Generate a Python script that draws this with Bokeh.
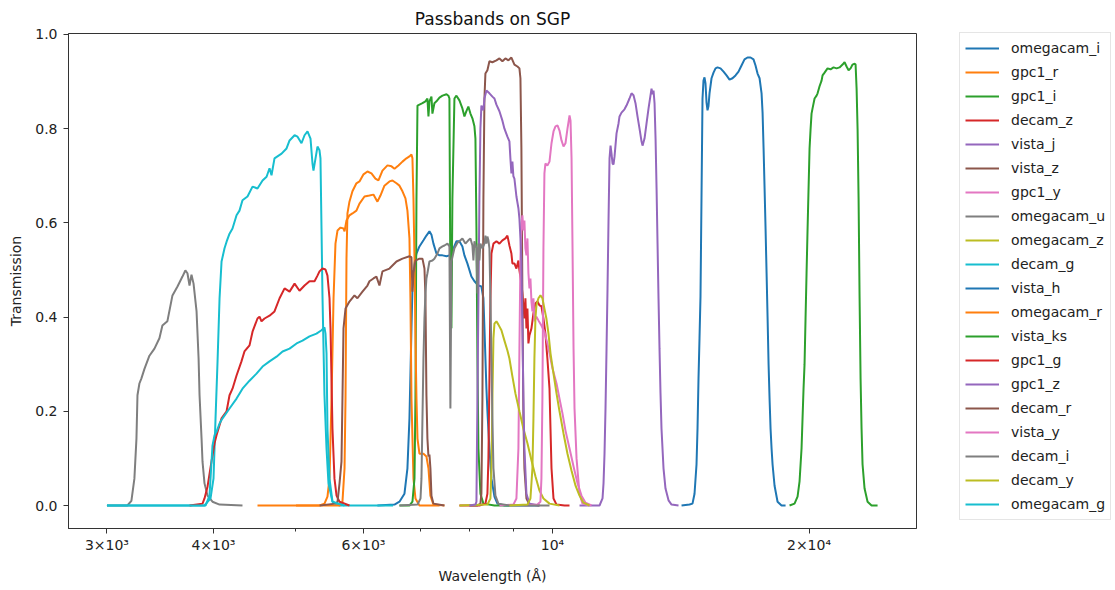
from bokeh.plotting import figure
from bokeh.models import Legend, LegendItem, FixedTicker, PrintfTickFormatter
from bokeh.embed import file_html
from bokeh.resources import INLINE

# ---- data: (wavelength [Angstrom], transmission) pairs ----
omegacam_i = [(6230, 0), (6525, 0.002), (6613, 0.008), (6703, 0.025), (6757, 0.079), (6794, 0.185),
              (6831, 0.376), (6849, 0.461), (6887, 0.514), (6924, 0.535), (6980, 0.55), (7056, 0.563),
              (7113, 0.573), (7171, 0.582), (7210, 0.575), (7249, 0.556), (7308, 0.535), (7368, 0.531),
              (7428, 0.531), (7509, 0.529), (7569, 0.531), (7652, 0.546), (7714, 0.561), (7776, 0.561),
              (7839, 0.55), (7882, 0.531), (7945, 0.514), (8032, 0.486), (8098, 0.476), (8186, 0.467),
              (8252, 0.465), (8297, 0.44), (8320, 0.376), (8365, 0.248), (8387, 0.2), (8433, 0.121),
              (8479, 0.057), (8548, 0.019), (8617, 0.004), (8782, 0), (9650, 0)]
gpc1_r = [(4506, 0), (5328, 0), (5400, 0.004), (5444, 0.019), (5474, 0.057), (5504, 0.227), (5534, 0.44),
          (5563, 0.556), (5594, 0.584), (5639, 0.59), (5685, 0.588), (5701, 0.582), (5731, 0.605),
          (5777, 0.616), (5824, 0.62), (5887, 0.626), (5936, 0.641), (6017, 0.656), (6098, 0.658),
          (6164, 0.66), (6231, 0.645), (6282, 0.658), (6350, 0.679), (6437, 0.688), (6489, 0.69),
          (6560, 0.684), (6613, 0.679), (6667, 0.667), (6721, 0.652), (6757, 0.626), (6794, 0.567),
          (6812, 0.44), (6831, 0.227), (6868, 0.057), (6905, 0.015), (6980, 0), (7370, 0)]
gpc1_i = [(6613, 0), (6794, 0), (6849, 0.008), (6887, 0.057), (6905, 0.227), (6924, 0.652), (6943, 0.849),
          (6980, 0.851), (7037, 0.854), (7094, 0.858), (7132, 0.864), (7152, 0.826), (7171, 0.858),
          (7210, 0.868), (7229, 0.832), (7268, 0.854), (7308, 0.858), (7368, 0.866), (7428, 0.87),
          (7509, 0.873), (7548, 0.87), (7569, 0.864), (7590, 0.44), (7610, 0.376), (7630, 0.652),
          (7672, 0.864), (7714, 0.87), (7776, 0.86), (7839, 0.843), (7882, 0.826), (7924, 0.837),
          (7966, 0.847), (8011, 0.832), (8054, 0.822), (8098, 0.805), (8120, 0.779), (8142, 0.588),
          (8164, 0.312), (8186, 0.121), (8230, 0.025), (8297, 0.004), (8548, 0), (8900, 0)]
decam_z = [(7776, 0), (8208, 0), (8342, 0.004), (8387, 0.025), (8410, 0.1), (8433, 0.27), (8456, 0.44),
           (8479, 0.535), (8525, 0.556), (8594, 0.561), (8664, 0.556), (8734, 0.563), (8805, 0.567),
           (8853, 0.573), (8901, 0.552), (8949, 0.535), (8973, 0.514), (9022, 0.514), (9071, 0.503),
           (9120, 0.52), (9145, 0.499), (9194, 0.471), (9219, 0.45), (9269, 0.397), (9294, 0.44),
           (9320, 0.376), (9345, 0.418), (9370, 0.344), (9396, 0.361), (9447, 0.376), (9498, 0.408),
           (9549, 0.429), (9601, 0.433), (9653, 0.425), (9705, 0.423), (9758, 0.397), (9810, 0.365),
           (9863, 0.312), (9919, 0.248), (9946, 0.163), (9973, 0.079), (10027, 0.015), (10109, 0.002),
           (10330, 0), (10470, 0)]
vista_j = [(10757, 0), (11355, 0), (11447, 0.015), (11478, 0.047), (11509, 0.11), (11540, 0.206),
           (11572, 0.333), (11603, 0.461), (11635, 0.609), (11666, 0.737), (11698, 0.764), (11729, 0.747),
           (11761, 0.726), (11793, 0.724), (11825, 0.741), (11889, 0.79), (11953, 0.811), (11985, 0.826),
           (12050, 0.834), (12147, 0.841), (12213, 0.849), (12313, 0.864), (12380, 0.875), (12447, 0.871),
           (12514, 0.854), (12582, 0.826), (12651, 0.8), (12719, 0.773), (12754, 0.764), (12823, 0.779),
           (12893, 0.811), (12963, 0.843), (13033, 0.871), (13068, 0.885), (13104, 0.873), (13139, 0.881),
           (13175, 0.854), (13211, 0.779), (13247, 0.673), (13282, 0.556), (13317, 0.44), (13353, 0.333),
           (13389, 0.238), (13425, 0.163), (13498, 0.079), (13571, 0.036), (13682, 0.011), (13794, 0.002),
           (14057, 0)]
vista_z = [(7989, 0), (8164, 0), (8230, 0.004), (8252, 0.025), (8275, 0.227), (8297, 0.652), (8320, 0.864),
           (8342, 0.917), (8387, 0.924), (8433, 0.943), (8501, 0.941), (8594, 0.945), (8664, 0.949),
           (8734, 0.943), (8805, 0.949), (8877, 0.945), (8949, 0.951), (9022, 0.936), (9096, 0.932),
           (9145, 0.928), (9170, 0.907), (9194, 0.758), (9219, 0.44), (9244, 0.185), (9269, 0.079),
           (9320, 0.015), (9396, 0.002), (9653, 0)]
gpc1_y = [(8664, 0), (8997, 0.002), (9071, 0.015), (9120, 0.121), (9145, 0.333), (9170, 0.524), (9194, 0.599),
          (9219, 0.616), (9244, 0.584), (9269, 0.605), (9294, 0.546), (9320, 0.531), (9345, 0.567),
          (9370, 0.493), (9396, 0.461), (9421, 0.482), (9447, 0.433), (9472, 0.412), (9498, 0.44),
          (9523, 0.391), (9575, 0.401), (9627, 0.393), (9705, 0.382), (9784, 0.369), (9863, 0.344),
          (9919, 0.323), (10000, 0.291), (10109, 0.259), (10191, 0.227), (10274, 0.195), (10357, 0.159),
          (10471, 0.121), (10585, 0.083), (10700, 0.047), (10815, 0.021), (10932, 0.006), (11112, 0)]
omegacam_u = [(3000, 0), (3170, 0), (3205, 0.01), (3231, 0.057), (3249, 0.142), (3258, 0.234), (3275, 0.259),
              (3293, 0.27), (3320, 0.29), (3365, 0.318), (3411, 0.333), (3457, 0.355), (3485, 0.382),
              (3532, 0.391), (3581, 0.446), (3630, 0.465), (3679, 0.486), (3708, 0.499), (3729, 0.493),
              (3750, 0.467), (3770, 0.49), (3791, 0.471), (3822, 0.412), (3843, 0.312), (3853, 0.234),
              (3874, 0.142), (3884, 0.093), (3905, 0.047), (3937, 0.021), (3990, 0.008), (4067, 0.002),
              (4327, 0)]
omegacam_z = [(7776, 0), (8387, 0.002), (8456, 0.015), (8479, 0.079), (8501, 0.227), (8525, 0.355),
              (8548, 0.386), (8594, 0.391), (8640, 0.384), (8711, 0.372), (8782, 0.35), (8853, 0.329),
              (8901, 0.312), (8973, 0.274), (9046, 0.238), (9145, 0.2), (9244, 0.163), (9345, 0.132),
              (9447, 0.096), (9549, 0.062), (9653, 0.032), (9758, 0.015), (9919, 0.004), (10191, 0)]
decam_g = [(3000, 0), (3905, 0), (3969, 0.015), (4001, 0.057), (4023, 0.185), (4045, 0.306), (4067, 0.44),
           (4089, 0.518), (4122, 0.546), (4145, 0.56), (4178, 0.577), (4212, 0.588), (4258, 0.616),
           (4292, 0.626), (4327, 0.648), (4386, 0.656), (4446, 0.677), (4506, 0.673), (4568, 0.69),
           (4618, 0.698), (4655, 0.716), (4680, 0.701), (4718, 0.737), (4809, 0.747), (4874, 0.758),
           (4914, 0.775), (4981, 0.786), (5021, 0.783), (5075, 0.769), (5117, 0.786), (5158, 0.794),
           (5200, 0.779), (5228, 0.726), (5242, 0.711), (5271, 0.737), (5299, 0.762), (5328, 0.754),
           (5342, 0.737), (5357, 0.588), (5371, 0.446), (5400, 0.234), (5430, 0.121), (5459, 0.047),
           (5518, 0.008), (5624, 0), (6500, 0)]
vista_h = [(14172, 0), (14481, 0.002), (14598, 0.004), (14678, 0.025), (14757, 0.087), (14797, 0.163),
           (14837, 0.27), (14877, 0.355), (14917, 0.444), (14957, 0.652), (14998, 0.864), (15038, 0.902),
           (15079, 0.909), (15120, 0.896), (15161, 0.856), (15202, 0.839), (15243, 0.848), (15285, 0.875),
           (15368, 0.907), (15451, 0.919), (15535, 0.928), (15619, 0.93), (15746, 0.928), (15875, 0.921),
           (16004, 0.913), (16134, 0.904), (16265, 0.907), (16397, 0.913), (16531, 0.921), (16665, 0.934),
           (16801, 0.947), (16938, 0.951), (17076, 0.951), (17214, 0.947), (17308, 0.934), (17403, 0.917),
           (17498, 0.907), (17593, 0.875), (17641, 0.834), (17689, 0.758), (17737, 0.673), (17785, 0.586),
           (17833, 0.493), (17882, 0.397), (17930, 0.299), (17977, 0.227), (18026, 0.163), (18075, 0.121),
           (18124, 0.087), (18222, 0.042), (18370, 0.008), (18569, 0), (18772, 0)]
omegacam_r = [(5000, 0), (5624, 0), (5669, 0.008), (5701, 0.079), (5716, 0.227), (5731, 0.524), (5746, 0.62),
              (5777, 0.645), (5824, 0.667), (5887, 0.684), (5936, 0.688), (6001, 0.703), (6065, 0.709),
              (6131, 0.705), (6197, 0.694), (6248, 0.69), (6316, 0.711), (6402, 0.722), (6472, 0.72),
              (6525, 0.715), (6595, 0.722), (6667, 0.73), (6739, 0.737), (6794, 0.741), (6831, 0.745),
              (6849, 0.737), (6868, 0.652), (6887, 0.524), (6905, 0.355), (6924, 0.227), (6943, 0.142),
              (6980, 0.11), (7056, 0.11), (7113, 0.104), (7152, 0.079), (7190, 0.021), (7249, 0.002), (7468, 0)]
vista_ks = [(18975, 0), (19232, 0.004), (19390, 0.019), (19495, 0.051), (19600, 0.121), (19653, 0.185),
            (19706, 0.248), (19759, 0.299), (19813, 0.397), (19867, 0.493), (19921, 0.586), (19975, 0.673),
            (20029, 0.758), (20083, 0.798), (20137, 0.832), (20192, 0.843), (20302, 0.864), (20412, 0.87),
            (20468, 0.875), (20578, 0.89), (20690, 0.902), (20745, 0.913), (20858, 0.919), (21027, 0.928),
            (21199, 0.926), (21371, 0.93), (21545, 0.928), (21721, 0.93), (21898, 0.936), (22017, 0.941),
            (22136, 0.932), (22256, 0.924), (22377, 0.928), (22498, 0.936), (22621, 0.938), (22682, 0.936),
            (22744, 0.885), (22805, 0.798), (22866, 0.652), (22927, 0.444), (22989, 0.27), (23051, 0.163),
            (23113, 0.087), (23239, 0.036), (23428, 0.008), (23684, 0), (24070, 0)]
gpc1_g = [(3750, 0), (3884, 0.004), (3905, 0.015), (3937, 0.04), (3979, 0.093), (4012, 0.132), (4034, 0.149),
          (4089, 0.185), (4145, 0.2), (4178, 0.234), (4212, 0.248), (4258, 0.276), (4315, 0.306),
          (4350, 0.327), (4410, 0.34), (4446, 0.369), (4506, 0.397), (4531, 0.401), (4555, 0.391),
          (4593, 0.397), (4655, 0.403), (4718, 0.412), (4783, 0.44), (4848, 0.461), (4914, 0.454),
          (4981, 0.471), (5048, 0.456), (5117, 0.467), (5186, 0.476), (5257, 0.476), (5299, 0.488),
          (5328, 0.497), (5371, 0.503), (5415, 0.501), (5444, 0.488), (5474, 0.44), (5489, 0.376),
          (5518, 0.163), (5548, 0.057), (5579, 0.021), (5624, 0.008), (5777, 0)]
gpc1_z = [(7989, 0), (8120, 0.002), (8142, 0.008), (8164, 0.227), (8186, 0.44), (8208, 0.652), (8230, 0.8),
          (8252, 0.849), (8297, 0.839), (8320, 0.864), (8365, 0.881), (8433, 0.875), (8501, 0.868),
          (8548, 0.864), (8594, 0.851), (8664, 0.837), (8734, 0.817), (8782, 0.8), (8853, 0.783),
          (8901, 0.773), (8925, 0.737), (8949, 0.705), (8973, 0.73), (8997, 0.699), (9022, 0.694),
          (9071, 0.656), (9120, 0.631), (9145, 0.609), (9170, 0.567), (9194, 0.518), (9219, 0.376),
          (9244, 0.227), (9269, 0.121), (9320, 0.025), (9396, 0.004), (9653, 0)]
decam_r = [(5330, 0), (5563, 0.004), (5594, 0.008), (5624, 0.047), (5654, 0.093), (5669, 0.227), (5685, 0.376),
           (5716, 0.418), (5777, 0.433), (5856, 0.446), (5903, 0.44), (5984, 0.454), (6065, 0.467),
           (6098, 0.476), (6164, 0.482), (6214, 0.486), (6265, 0.467), (6316, 0.497), (6437, 0.503),
           (6560, 0.518), (6667, 0.524), (6794, 0.529), (6831, 0.527), (6849, 0.454), (6868, 0.493),
           (6905, 0.52), (6980, 0.524), (7037, 0.524), (7075, 0.503), (7094, 0.446), (7113, 0.234),
           (7132, 0.142), (7152, 0.104), (7171, 0.108), (7190, 0.079), (7210, 0.021), (7249, 0.004), (7468, 0)]
vista_y = [(9269, 0), (9601, 0.002), (9679, 0.008), (9705, 0.057), (9731, 0.227), (9758, 0.546), (9784, 0.705),
           (9810, 0.726), (9863, 0.722), (9919, 0.73), (9973, 0.769), (10027, 0.794), (10081, 0.805),
           (10136, 0.807), (10191, 0.796), (10246, 0.775), (10302, 0.762), (10357, 0.769), (10413, 0.8),
           (10471, 0.828), (10499, 0.817), (10528, 0.737), (10556, 0.546), (10585, 0.333), (10613, 0.206),
           (10671, 0.1), (10757, 0.025), (10844, 0.004), (11052, 0)]
decam_i = [(6613, 0), (6943, 0.002), (7000, 0.015), (7018, 0.057), (7037, 0.185), (7056, 0.312), (7075, 0.397),
           (7094, 0.45), (7113, 0.482), (7132, 0.493), (7171, 0.518), (7229, 0.52), (7268, 0.524),
           (7328, 0.535), (7368, 0.546), (7428, 0.55), (7468, 0.552), (7529, 0.556), (7569, 0.55),
           (7589, 0.206), (7610, 0.518), (7672, 0.546), (7735, 0.558), (7776, 0.561), (7839, 0.567),
           (7903, 0.556), (7966, 0.563), (8011, 0.567), (8054, 0.552), (8076, 0.52), (8098, 0.561),
           (8142, 0.546), (8164, 0.45), (8186, 0.556), (8208, 0.52), (8230, 0.556), (8275, 0.546),
           (8320, 0.556), (8342, 0.573), (8365, 0.556), (8387, 0.571), (8410, 0.563), (8433, 0.546),
           (8456, 0.44), (8479, 0.312), (8501, 0.185), (8525, 0.079), (8571, 0.021), (8640, 0.004),
           (8901, 0), (9919, 0)]
decam_y = [(8901, 0), (9345, 0.002), (9421, 0.015), (9472, 0.079), (9498, 0.185), (9523, 0.312), (9549, 0.397),
           (9575, 0.425), (9627, 0.44), (9679, 0.446), (9731, 0.44), (9784, 0.418), (9836, 0.397),
           (9892, 0.365), (9946, 0.323), (10027, 0.28), (10109, 0.238), (10191, 0.2), (10302, 0.153),
           (10413, 0.11), (10528, 0.074), (10642, 0.042), (10757, 0.021), (10873, 0.006), (11052, 0)]
omegacam_g = [(3000, 0), (3916, 0), (3958, 0.021), (3990, 0.127), (4012, 0.149), (4034, 0.157), (4067, 0.174),
              (4100, 0.185), (4178, 0.206), (4258, 0.227), (4327, 0.248), (4410, 0.265), (4494, 0.28),
              (4568, 0.295), (4655, 0.306), (4744, 0.316), (4822, 0.327), (4914, 0.333), (5008, 0.344),
              (5089, 0.35), (5186, 0.359), (5285, 0.365), (5357, 0.372), (5400, 0.378), (5415, 0.365),
              (5430, 0.323), (5444, 0.163), (5474, 0.057), (5518, 0.008), (5700, 0)]

band_names = ["omegacam_i", "gpc1_r", "gpc1_i", "decam_z", "vista_j", "vista_z", "gpc1_y",
              "omegacam_u", "omegacam_z", "decam_g", "vista_h", "omegacam_r", "vista_ks", "gpc1_g",
              "gpc1_z", "decam_r", "vista_y", "decam_i", "decam_y", "omegacam_g"]
band_curves = [omegacam_i, gpc1_r, gpc1_i, decam_z, vista_j, vista_z, gpc1_y,
               omegacam_u, omegacam_z, decam_g, vista_h, omegacam_r, vista_ks, gpc1_g,
               gpc1_z, decam_r, vista_y, decam_i, decam_y, omegacam_g]
palette = ["#1f77b4", "#ff7f0e", "#2ca02c", "#d62728", "#9467bd",
           "#8c564b", "#e377c2", "#7f7f7f", "#bcbd22", "#17becf"]

x_ticks = [3000, 4000, 6000, 10000, 20000]
x_minor_ticks = [5000, 7000, 8000, 9000]
x_tick_labels = ["3×10³", "4×10³", "6×10³", "10⁴", "2×10⁴"]
y_ticks = [0.0, 0.2, 0.4, 0.6, 0.8, 1.0]

FONT = "DejaVu Sans"

p = figure(frame_width=848, frame_height=495, x_axis_type="log",
           x_range=(2704, 26740), y_range=(-0.0488, 1.002),
           output_backend="svg", toolbar_location=None,
           min_border_left=68, min_border_right=183, min_border_top=33, min_border_bottom=54,
           title="Passbands on SGP")

p.title.align = "center"
p.title.text_font = FONT
p.title.text_font_size = "17px"
p.title.text_font_style = "normal"
p.title.text_color = "#111111"
p.title.standoff = 10

p.xgrid.visible = False
p.ygrid.visible = False
p.outline_line_color = "#333333"
p.outline_line_width = 1
p.background_fill_color = "white"

for ax in (p.xaxis[0], p.yaxis[0]):
    ax.axis_line_color = "#333333"
    ax.major_tick_line_color = "#333333"
    ax.minor_tick_line_color = "#333333"
    ax.major_tick_in = 0
    ax.major_tick_out = 5
    ax.minor_tick_in = 0
    ax.minor_tick_out = 3
    ax.major_label_text_font = FONT
    ax.major_label_text_font_size = "14px"
    ax.major_label_text_color = "#222222"
    ax.axis_label_text_font = FONT
    ax.axis_label_text_font_size = "14px"
    ax.axis_label_text_font_style = "normal"
    ax.axis_label_text_color = "#222222"

p.xaxis.ticker = FixedTicker(ticks=x_ticks, minor_ticks=x_minor_ticks)
p.xaxis.major_label_overrides = {t: lab for t, lab in zip(x_ticks, x_tick_labels)}
p.xaxis.major_label_standoff = 3
p.xaxis.axis_label = "Wavelength (Å)"
p.xaxis.axis_label_standoff = 12

p.yaxis.ticker = FixedTicker(ticks=y_ticks, minor_ticks=[])
p.yaxis.formatter = PrintfTickFormatter(format="%.1f")
p.yaxis.major_label_standoff = 6
p.yaxis.axis_label = "Transmission"
p.yaxis.axis_label_standoff = 8

items = []
for i, (name, curve) in enumerate(zip(band_names, band_curves)):
    xs = [c[0] for c in curve]
    ys = [c[1] for c in curve]
    r = p.line(xs, ys, line_color=palette[i % 10], line_width=2)
    items.append(LegendItem(label=name, renderers=[r]))

legend = Legend(items=items, location=(43, 8), margin=0, padding=5,
                spacing=4, label_height=20, glyph_height=20, glyph_width=34,
                label_standoff=12, label_text_font=FONT, label_text_font_size="14px",
                label_text_color="#222222", border_line_color="#cccccc", border_line_width=1,
                background_fill_color="white", background_fill_alpha=1.0)
p.add_layout(legend, "right")

open("out.html", "w").write(file_html(p, INLINE))
